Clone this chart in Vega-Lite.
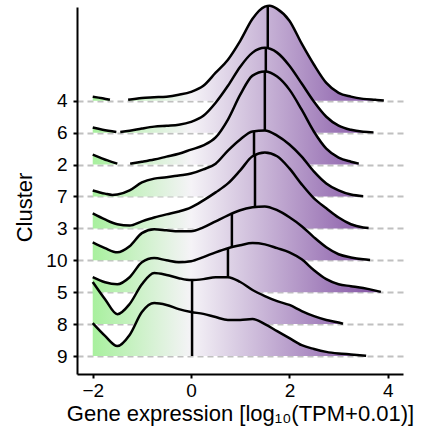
{
  "$schema": "https://vega.github.io/schema/vega-lite/v6.json",
  "width": 326,
  "height": 367,
  "autosize": {"type": "none"},
  "padding": {"left": 77, "top": 7, "right": 19, "bottom": 65},
  "background": "white",
  "config": {
    "view": {"stroke": null},
    "font": "Liberation Sans",
    "axis": {
      "domainColor": "black", "domainWidth": 2, "tickColor": "black", "tickWidth": 2, "tickSize": 4,
      "labelColor": "black", "labelFont": "Liberation Sans", "labelFontSize": 19,
      "titleFont": "Liberation Sans", "titleFontSize": 22, "titleFontWeight": "normal", "titleColor": "black",
      "grid": false
    }
  },
  "datasets": {
    "ranks": [
      {"c": "9", "r": 0}, {"c": "8", "r": 1}, {"c": "5", "r": 2}, {"c": "10", "r": 3}, {"c": "3", "r": 4},
      {"c": "7", "r": 5}, {"c": "2", "r": 6}, {"c": "6", "r": 7}, {"c": "4", "r": 8}
    ],
    "dens": [
      {"c":"4","x":-2,"d":0.13},{"c":"4","x":-1.8,"d":0.08},{"c":"4","x":-1.65,"d":0.03},{"c":"4","x":-1.45,"d":null},{"c":"4","x":-1.28,"d":0.03},{"c":"4","x":-1,"d":0.09},{"c":"4","x":-0.75,"d":0.11},{"c":"4","x":-0.5,"d":0.13},{"c":"4","x":-0.25,"d":0.19},{"c":"4","x":0,"d":0.28},{"c":"4","x":0.25,"d":0.47},{"c":"4","x":0.5,"d":0.88},{"c":"4","x":0.75,"d":1.29},{"c":"4","x":1,"d":1.88},{"c":"4","x":1.25,"d":2.57},{"c":"4","x":1.5,"d":2.95},{"c":"4","x":1.6,"d":2.98},{"c":"4","x":1.75,"d":2.88},{"c":"4","x":2,"d":2.51},{"c":"4","x":2.25,"d":1.79},{"c":"4","x":2.5,"d":1.13},{"c":"4","x":2.75,"d":0.56},{"c":"4","x":3,"d":0.25},{"c":"4","x":3.25,"d":0.13},{"c":"4","x":3.5,"d":0.06},{"c":"4","x":3.75,"d":0.03},{"c":"4","x":3.92,"d":0.01},
      {"c":"4","x":1.56,"d":2.97,"m":1},
      {"c":"6","x":-2,"d":0.16},{"c":"6","x":-1.8,"d":0.09},{"c":"6","x":-1.52,"d":0.02},{"c":"6","x":-1.48,"d":null},{"c":"6","x":-1.44,"d":0.02},{"c":"6","x":-1.25,"d":0.06},{"c":"6","x":-1,"d":0.13},{"c":"6","x":-0.75,"d":0.19},{"c":"6","x":-0.5,"d":0.22},{"c":"6","x":-0.25,"d":0.25},{"c":"6","x":0,"d":0.34},{"c":"6","x":0.25,"d":0.53},{"c":"6","x":0.5,"d":0.94},{"c":"6","x":0.75,"d":1.47},{"c":"6","x":1,"d":2.07},{"c":"6","x":1.25,"d":2.51},{"c":"6","x":1.5,"d":2.66},{"c":"6","x":1.75,"d":2.51},{"c":"6","x":2,"d":2.1},{"c":"6","x":2.25,"d":1.54},{"c":"6","x":2.5,"d":0.97},{"c":"6","x":2.75,"d":0.5},{"c":"6","x":3,"d":0.22},{"c":"6","x":3.25,"d":0.09},{"c":"6","x":3.5,"d":0.03},{"c":"6","x":3.71,"d":0.01},
      {"c":"6","x":1.52,"d":2.66,"m":1},
      {"c":"2","x":-2,"d":0.31},{"c":"2","x":-1.85,"d":0.22},{"c":"2","x":-1.7,"d":0.13},{"c":"2","x":-1.5,"d":0.03},{"c":"2","x":-1.37,"d":null},{"c":"2","x":-1.24,"d":0.03},{"c":"2","x":-1,"d":0.09},{"c":"2","x":-0.75,"d":0.16},{"c":"2","x":-0.5,"d":0.25},{"c":"2","x":-0.25,"d":0.34},{"c":"2","x":0,"d":0.47},{"c":"2","x":0.25,"d":0.6},{"c":"2","x":0.5,"d":0.85},{"c":"2","x":0.75,"d":1.41},{"c":"2","x":1,"d":2.19},{"c":"2","x":1.25,"d":2.79},{"c":"2","x":1.5,"d":2.92},{"c":"2","x":1.75,"d":2.76},{"c":"2","x":2,"d":2.35},{"c":"2","x":2.25,"d":1.72},{"c":"2","x":2.5,"d":1.03},{"c":"2","x":2.75,"d":0.5},{"c":"2","x":3,"d":0.22},{"c":"2","x":3.25,"d":0.09},{"c":"2","x":3.41,"d":0.03},
      {"c":"2","x":1.5,"d":2.92,"m":1},
      {"c":"7","x":-2,"d":0.19},{"c":"7","x":-1.75,"d":0.09},{"c":"7","x":-1.6,"d":0.05},{"c":"7","x":-1.5,"d":0.06},{"c":"7","x":-1.25,"d":0.19},{"c":"7","x":-1,"d":0.44},{"c":"7","x":-0.75,"d":0.56},{"c":"7","x":-0.5,"d":0.6},{"c":"7","x":-0.25,"d":0.66},{"c":"7","x":0,"d":0.72},{"c":"7","x":0.25,"d":0.85},{"c":"7","x":0.5,"d":1.03},{"c":"7","x":0.75,"d":1.44},{"c":"7","x":1,"d":1.79},{"c":"7","x":1.25,"d":2.04},{"c":"7","x":1.5,"d":2.07},{"c":"7","x":1.75,"d":1.91},{"c":"7","x":2,"d":1.63},{"c":"7","x":2.25,"d":1.25},{"c":"7","x":2.5,"d":0.78},{"c":"7","x":2.75,"d":0.41},{"c":"7","x":3,"d":0.19},{"c":"7","x":3.25,"d":0.06},{"c":"7","x":3.5,"d":0.01},
      {"c":"7","x":1.28,"d":2.05,"m":1},
      {"c":"3","x":-2,"d":0.47},{"c":"3","x":-1.75,"d":0.28},{"c":"3","x":-1.5,"d":0.13},{"c":"3","x":-1.25,"d":0.09},{"c":"3","x":-1,"d":0.22},{"c":"3","x":-0.75,"d":0.34},{"c":"3","x":-0.5,"d":0.44},{"c":"3","x":-0.25,"d":0.53},{"c":"3","x":0,"d":0.66},{"c":"3","x":0.25,"d":0.88},{"c":"3","x":0.5,"d":1.13},{"c":"3","x":0.75,"d":1.41},{"c":"3","x":1,"d":1.82},{"c":"3","x":1.25,"d":2.26},{"c":"3","x":1.5,"d":2.38},{"c":"3","x":1.75,"d":2.26},{"c":"3","x":2,"d":1.88},{"c":"3","x":2.25,"d":1.38},{"c":"3","x":2.5,"d":0.94},{"c":"3","x":2.75,"d":0.63},{"c":"3","x":3,"d":0.34},{"c":"3","x":3.25,"d":0.13},{"c":"3","x":3.5,"d":0.03},{"c":"3","x":3.61,"d":0.01},
      {"c":"3","x":1.3,"d":2.29,"m":1},
      {"c":"10","x":-2,"d":0.56},{"c":"10","x":-1.75,"d":0.38},{"c":"10","x":-1.5,"d":0.25},{"c":"10","x":-1.25,"d":0.44},{"c":"10","x":-1,"d":0.85},{"c":"10","x":-0.75,"d":0.97},{"c":"10","x":-0.5,"d":0.94},{"c":"10","x":-0.25,"d":0.91},{"c":"10","x":0,"d":0.91},{"c":"10","x":0.25,"d":1.03},{"c":"10","x":0.5,"d":1.22},{"c":"10","x":0.75,"d":1.41},{"c":"10","x":1,"d":1.57},{"c":"10","x":1.25,"d":1.66},{"c":"10","x":1.5,"d":1.69},{"c":"10","x":1.75,"d":1.57},{"c":"10","x":2,"d":1.35},{"c":"10","x":2.25,"d":1.07},{"c":"10","x":2.5,"d":0.72},{"c":"10","x":2.75,"d":0.41},{"c":"10","x":3,"d":0.19},{"c":"10","x":3.25,"d":0.09},{"c":"10","x":3.5,"d":0.03},{"c":"10","x":3.64,"d":0.01},
      {"c":"10","x":0.83,"d":1.46,"m":1},
      {"c":"5","x":-2,"d":0.47},{"c":"5","x":-1.75,"d":0.31},{"c":"5","x":-1.5,"d":0.25},{"c":"5","x":-1.25,"d":0.47},{"c":"5","x":-1,"d":0.94},{"c":"5","x":-0.75,"d":1.07},{"c":"5","x":-0.5,"d":1.0},{"c":"5","x":-0.25,"d":0.94},{"c":"5","x":0,"d":0.97},{"c":"5","x":0.25,"d":1.1},{"c":"5","x":0.5,"d":1.25},{"c":"5","x":0.75,"d":1.38},{"c":"5","x":1,"d":1.47},{"c":"5","x":1.25,"d":1.54},{"c":"5","x":1.5,"d":1.5},{"c":"5","x":1.75,"d":1.38},{"c":"5","x":2,"d":1.25},{"c":"5","x":2.25,"d":1.03},{"c":"5","x":2.5,"d":0.69},{"c":"5","x":2.75,"d":0.41},{"c":"5","x":3,"d":0.25},{"c":"5","x":3.25,"d":0.19},{"c":"5","x":3.5,"d":0.13},{"c":"5","x":3.75,"d":0.05},{"c":"5","x":3.86,"d":0.01},
      {"c":"5","x":0.75,"d":1.38,"m":1},
      {"c":"8","x":-2,"d":1.32},{"c":"8","x":-1.75,"d":0.78},{"c":"8","x":-1.5,"d":0.31},{"c":"8","x":-1.25,"d":0.63},{"c":"8","x":-1,"d":1.25},{"c":"8","x":-0.75,"d":1.6},{"c":"8","x":-0.5,"d":1.54},{"c":"8","x":-0.25,"d":1.44},{"c":"8","x":0,"d":1.38},{"c":"8","x":0.25,"d":1.41},{"c":"8","x":0.5,"d":1.47},{"c":"8","x":0.75,"d":1.47},{"c":"8","x":1,"d":1.32},{"c":"8","x":1.25,"d":1.07},{"c":"8","x":1.5,"d":0.88},{"c":"8","x":1.75,"d":0.72},{"c":"8","x":2,"d":0.6},{"c":"8","x":2.25,"d":0.41},{"c":"8","x":2.5,"d":0.25},{"c":"8","x":2.75,"d":0.13},{"c":"8","x":3,"d":0.05},{"c":"8","x":3.09,"d":0.01},
      {"c":"8","x":0.02,"d":1.38,"m":1},
      {"c":"9","x":-2,"d":1.03},{"c":"9","x":-1.75,"d":0.63},{"c":"9","x":-1.5,"d":0.31},{"c":"9","x":-1.25,"d":0.66},{"c":"9","x":-1,"d":1.38},{"c":"9","x":-0.75,"d":1.66},{"c":"9","x":-0.5,"d":1.6},{"c":"9","x":-0.25,"d":1.47},{"c":"9","x":0,"d":1.38},{"c":"9","x":0.25,"d":1.32},{"c":"9","x":0.5,"d":1.22},{"c":"9","x":0.75,"d":1.13},{"c":"9","x":1,"d":1.13},{"c":"9","x":1.25,"d":1.16},{"c":"9","x":1.5,"d":1.0},{"c":"9","x":1.75,"d":0.78},{"c":"9","x":2,"d":0.56},{"c":"9","x":2.25,"d":0.34},{"c":"9","x":2.5,"d":0.22},{"c":"9","x":2.75,"d":0.13},{"c":"9","x":3,"d":0.08},{"c":"9","x":3.25,"d":0.05},{"c":"9","x":3.56,"d":0.01},
      {"c":"9","x":0.02,"d":1.38,"m":1}
    ]
  },
  "data": {"name": "dens"},
  "transform": [
    {"lookup": "c", "from": {"data": {"name": "ranks"}, "key": "c", "fields": ["r"]}},
    {"calculate": "datum.d == null ? null : datum.r + datum.d", "as": "top"}
  ],
  "encoding": {
    "x": {
      "field": "x", "type": "quantitative",
      "scale": {"domain": [-2.32, 4.31], "nice": false, "zero": false},
      "axis": {"values": [-2, 0, 2, 4], "title": "Gene expression [log₁₀(TPM+0.01)]", "labelPadding": 3, "titlePadding": 3}
    },
    "y": {
      "field": "top", "type": "quantitative",
      "scale": {"domain": [-0.564, 10.94], "nice": false, "zero": false},
      "axis": {
        "values": [0, 1, 2, 3, 4, 5, 6, 7, 8],
        "labelExpr": "['9','8','5','10','3','7','2','6','4'][datum.value]",
        "title": "Cluster", "labelPadding": 6, "titlePadding": 9, "titleY": 200,
        "grid": true, "gridColor": "#c0c0c0", "gridDash": [6, 4], "gridWidth": 2
      }
    }
  },
  "layer": [
    {"transform": [{"filter": "datum.c === '4'"}], "layer": [
      {"transform": [{"filter": "!datum.m"}], "mark": {"type": "area", "interpolate": "monotone", "fillOpacity": 1, "fill": {"gradient": "linear", "x1": 0, "y1": 0, "x2": 1, "y2": 0, "stops": [{"offset": 0, "color": "#a8f09e"}, {"offset": 0.338, "color": "#f5f3f7"}, {"offset": 1, "color": "#7f4ea2"}]}}, "encoding": {"y2": {"field": "r"}}},
      {"transform": [{"filter": "!datum.m"}], "mark": {"type": "line", "interpolate": "monotone", "color": "black", "strokeWidth": 2.5}, "encoding": {}},
      {"transform": [{"filter": "datum.m"}], "mark": {"type": "rule", "color": "black", "strokeWidth": 2.5}, "encoding": {"y2": {"field": "r"}}}
    ]},
    {"transform": [{"filter": "datum.c === '6'"}], "layer": [
      {"transform": [{"filter": "!datum.m"}], "mark": {"type": "area", "interpolate": "monotone", "fillOpacity": 1, "fill": {"gradient": "linear", "x1": 0, "y1": 0, "x2": 1, "y2": 0, "stops": [{"offset": 0, "color": "#a8f09e"}, {"offset": 0.35, "color": "#f5f3f7"}, {"offset": 1, "color": "#8657a6"}]}}, "encoding": {"y2": {"field": "r"}}},
      {"transform": [{"filter": "!datum.m"}], "mark": {"type": "line", "interpolate": "monotone", "color": "black", "strokeWidth": 2.5}, "encoding": {}},
      {"transform": [{"filter": "datum.m"}], "mark": {"type": "rule", "color": "black", "strokeWidth": 2.5}, "encoding": {"y2": {"field": "r"}}}
    ]},
    {"transform": [{"filter": "datum.c === '2'"}], "layer": [
      {"transform": [{"filter": "!datum.m"}], "mark": {"type": "area", "interpolate": "monotone", "fillOpacity": 1, "fill": {"gradient": "linear", "x1": 0, "y1": 0, "x2": 1, "y2": 0, "stops": [{"offset": 0, "color": "#a8f09e"}, {"offset": 0.37, "color": "#f5f3f7"}, {"offset": 1, "color": "#8f64ad"}]}}, "encoding": {"y2": {"field": "r"}}},
      {"transform": [{"filter": "!datum.m"}], "mark": {"type": "line", "interpolate": "monotone", "color": "black", "strokeWidth": 2.5}, "encoding": {}},
      {"transform": [{"filter": "datum.m"}], "mark": {"type": "rule", "color": "black", "strokeWidth": 2.5}, "encoding": {"y2": {"field": "r"}}}
    ]},
    {"transform": [{"filter": "datum.c === '7'"}], "layer": [
      {"transform": [{"filter": "!datum.m"}], "mark": {"type": "area", "interpolate": "monotone", "fillOpacity": 1, "fill": {"gradient": "linear", "x1": 0, "y1": 0, "x2": 1, "y2": 0, "stops": [{"offset": 0, "color": "#a8f09e"}, {"offset": 0.364, "color": "#f5f3f7"}, {"offset": 1, "color": "#8c60ab"}]}}, "encoding": {"y2": {"field": "r"}}},
      {"transform": [{"filter": "!datum.m"}], "mark": {"type": "line", "interpolate": "monotone", "color": "black", "strokeWidth": 2.5}, "encoding": {}},
      {"transform": [{"filter": "datum.m"}], "mark": {"type": "rule", "color": "black", "strokeWidth": 2.5}, "encoding": {"y2": {"field": "r"}}}
    ]},
    {"transform": [{"filter": "datum.c === '3'"}], "layer": [
      {"transform": [{"filter": "!datum.m"}], "mark": {"type": "area", "interpolate": "monotone", "fillOpacity": 1, "fill": {"gradient": "linear", "x1": 0, "y1": 0, "x2": 1, "y2": 0, "stops": [{"offset": 0, "color": "#a8f09e"}, {"offset": 0.357, "color": "#f5f3f7"}, {"offset": 1, "color": "#895ba8"}]}}, "encoding": {"y2": {"field": "r"}}},
      {"transform": [{"filter": "!datum.m"}], "mark": {"type": "line", "interpolate": "monotone", "color": "black", "strokeWidth": 2.5}, "encoding": {}},
      {"transform": [{"filter": "datum.m"}], "mark": {"type": "rule", "color": "black", "strokeWidth": 2.5}, "encoding": {"y2": {"field": "r"}}}
    ]},
    {"transform": [{"filter": "datum.c === '10'"}], "layer": [
      {"transform": [{"filter": "!datum.m"}], "mark": {"type": "area", "interpolate": "monotone", "fillOpacity": 1, "fill": {"gradient": "linear", "x1": 0, "y1": 0, "x2": 1, "y2": 0, "stops": [{"offset": 0, "color": "#a8f09e"}, {"offset": 0.355, "color": "#f5f3f7"}, {"offset": 1, "color": "#885aa8"}]}}, "encoding": {"y2": {"field": "r"}}},
      {"transform": [{"filter": "!datum.m"}], "mark": {"type": "line", "interpolate": "monotone", "color": "black", "strokeWidth": 2.5}, "encoding": {}},
      {"transform": [{"filter": "datum.m"}], "mark": {"type": "rule", "color": "black", "strokeWidth": 2.5}, "encoding": {"y2": {"field": "r"}}}
    ]},
    {"transform": [{"filter": "datum.c === '5'"}], "layer": [
      {"transform": [{"filter": "!datum.m"}], "mark": {"type": "area", "interpolate": "monotone", "fillOpacity": 1, "fill": {"gradient": "linear", "x1": 0, "y1": 0, "x2": 1, "y2": 0, "stops": [{"offset": 0, "color": "#a8f09e"}, {"offset": 0.341, "color": "#f5f3f7"}, {"offset": 1, "color": "#8151a3"}]}}, "encoding": {"y2": {"field": "r"}}},
      {"transform": [{"filter": "!datum.m"}], "mark": {"type": "line", "interpolate": "monotone", "color": "black", "strokeWidth": 2.5}, "encoding": {}},
      {"transform": [{"filter": "datum.m"}], "mark": {"type": "rule", "color": "black", "strokeWidth": 2.5}, "encoding": {"y2": {"field": "r"}}}
    ]},
    {"transform": [{"filter": "datum.c === '8'"}], "layer": [
      {"transform": [{"filter": "!datum.m"}], "mark": {"type": "area", "interpolate": "monotone", "fillOpacity": 1, "fill": {"gradient": "linear", "x1": 0, "y1": 0, "x2": 1, "y2": 0, "stops": [{"offset": 0, "color": "#a8f09e"}, {"offset": 0.393, "color": "#f5f3f7"}, {"offset": 1, "color": "#9871b4"}]}}, "encoding": {"y2": {"field": "r"}}},
      {"transform": [{"filter": "!datum.m"}], "mark": {"type": "line", "interpolate": "monotone", "color": "black", "strokeWidth": 2.5}, "encoding": {}},
      {"transform": [{"filter": "datum.m"}], "mark": {"type": "rule", "color": "black", "strokeWidth": 2.5}, "encoding": {"y2": {"field": "r"}}}
    ]},
    {"transform": [{"filter": "datum.c === '9'"}], "layer": [
      {"transform": [{"filter": "!datum.m"}], "mark": {"type": "area", "interpolate": "monotone", "fillOpacity": 1, "fill": {"gradient": "linear", "x1": 0, "y1": 0, "x2": 1, "y2": 0, "stops": [{"offset": 0, "color": "#a8f09e"}, {"offset": 0.36, "color": "#f5f3f7"}, {"offset": 1, "color": "#8a5daa"}]}}, "encoding": {"y2": {"field": "r"}}},
      {"transform": [{"filter": "!datum.m"}], "mark": {"type": "line", "interpolate": "monotone", "color": "black", "strokeWidth": 2.5}, "encoding": {}},
      {"transform": [{"filter": "datum.m"}], "mark": {"type": "rule", "color": "black", "strokeWidth": 2.5}, "encoding": {"y2": {"field": "r"}}}
    ]}
  ]
}
